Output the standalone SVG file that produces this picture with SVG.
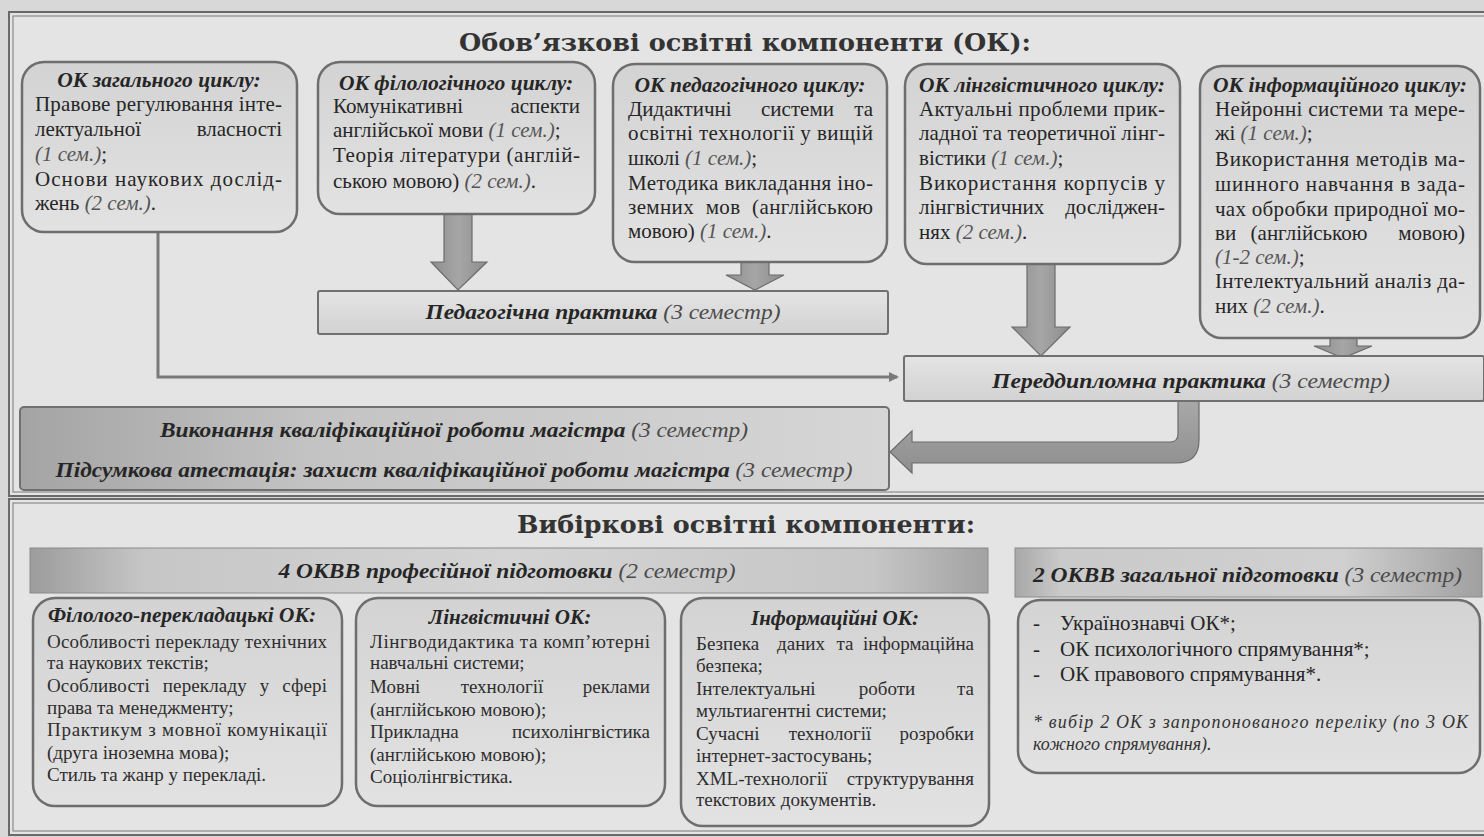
<svg xmlns="http://www.w3.org/2000/svg" width="1484" height="837" viewBox="0 0 1484 837">
<defs>
<linearGradient id="gBox" x1="0" y1="0" x2="0" y2="1"><stop offset="0" stop-color="#d3d3d3"/><stop offset="1" stop-color="#e2e2e2"/></linearGradient>
<linearGradient id="gPr" x1="0" y1="0" x2="0" y2="1"><stop offset="0" stop-color="#e4e4e4"/><stop offset="1" stop-color="#d2d2d2"/></linearGradient>
<linearGradient id="gDark" x1="0" y1="0" x2="1" y2="0"><stop offset="0" stop-color="#a4a4a4"/><stop offset="0.35" stop-color="#c4c4c4"/><stop offset="1" stop-color="#d6d6d6"/></linearGradient>
<linearGradient id="gBar" x1="0" y1="0" x2="1" y2="0"><stop offset="0" stop-color="#9c9c9c"/><stop offset="0.12" stop-color="#c6c6c6"/><stop offset="0.5" stop-color="#d4d4d4"/><stop offset="0.88" stop-color="#c6c6c6"/><stop offset="1" stop-color="#a2a2a2"/></linearGradient>
<linearGradient id="gBar2" x1="0" y1="0" x2="1" y2="0"><stop offset="0" stop-color="#a8a8a8"/><stop offset="0.1" stop-color="#cacaca"/><stop offset="0.7" stop-color="#d0d0d0"/><stop offset="1" stop-color="#a0a0a0"/></linearGradient>
<linearGradient id="gArr" x1="0" y1="0" x2="1" y2="0"><stop offset="0" stop-color="#8e8e8e"/><stop offset="0.5" stop-color="#a6a6a6"/><stop offset="1" stop-color="#8c8c8c"/></linearGradient>
<linearGradient id="gArrV" x1="0" y1="0" x2="0" y2="1"><stop offset="0" stop-color="#a8a8a8"/><stop offset="1" stop-color="#8e8e8e"/></linearGradient>
<marker id="ah" markerWidth="10" markerHeight="10" refX="8" refY="5" orient="auto" markerUnits="userSpaceOnUse"><path d="M0,0 L10,5 L0,10 Z" fill="#7a7a7a"/></marker>
<style>
.frame{fill:#e4e4e4;stroke:#6a6a6a;stroke-width:2}
.frame2{fill:none;stroke:#8a8a8a;stroke-width:1.2}
.box{fill:url(#gBox);stroke:#6e6e6e;stroke-width:2.5}
.pr{fill:url(#gPr);stroke:#707070;stroke-width:2}
.arr{fill:url(#gArr);stroke:#6c6c6c;stroke-width:1.2}
.line{fill:none;stroke:#7a7a7a;stroke-width:3}
.ttl{font-family:"DejaVu Serif","Liberation Serif",serif;font-weight:bold;font-size:24px;fill:#333}
.t{font-family:"Liberation Serif",serif;font-size:21px;fill:#262626}
.s{font-family:"Liberation Serif",serif;font-size:19px;fill:#2e2e2e}
.h{font-family:"Liberation Serif",serif;font-size:21.5px;font-weight:bold;font-style:italic;fill:#262626}
.hs{font-family:"Liberation Serif",serif;font-size:21px;font-weight:bold;font-style:italic;fill:#262626}
.i{font-style:italic;fill:#555}
.p{font-family:"Liberation Serif",serif;font-size:21px;fill:#262626}
.bi{font-weight:bold;font-style:italic}
.it{font-style:italic;fill:#4a4a4a}
.fn{font-family:"Liberation Serif",serif;font-size:18px;font-style:italic;fill:#333}
.e{text-anchor:end}
.m{text-anchor:middle}
</style>
</defs>
<rect width="1484" height="837" fill="#d8d8d8"/>
<rect class="frame" x="9" y="12" width="1490" height="484"/>
<rect class="frame2" x="13" y="16" width="1490" height="476"/>
<rect class="frame" x="9" y="499" width="1490" height="336"/>
<rect class="frame2" x="13" y="503" width="1490" height="328"/>

<text class="ttl m" x="745" y="51" textLength="572" lengthAdjust="spacingAndGlyphs">Обов’язкові освітні компоненти (ОК):</text>
<text class="ttl m" x="746" y="533" textLength="458" lengthAdjust="spacingAndGlyphs">Вибіркові освітні компоненти:</text>

<g id="connectors">
<polyline class="line" points="158,232 158,377 897,377" marker-end="url(#ah)"/>
<polygon class="arr" points="444,214 472,214 472,262 487,262 458,290 431,262 444,262"/>
<polygon class="arr" points="741,262 769,262 769,275 784,275 755,290 726,275 741,275"/>
<polygon class="arr" points="1027,264 1055,264 1055,327 1070,327 1041,356 1012,327 1027,327"/>
<polygon class="arr" points="1330,338 1357,338 1357,346 1372,346 1343,358 1314,346 1330,346"/>
<path class="arr" style="fill:url(#gArrV)" d="M1178,401 L1199,401 L1199,440 Q1199,463 1176,463 L912,463 L912,473 L890,452 L912,431 L912,442 L1170,442 Q1178,442 1178,434 Z"/>
</g>

<g id="ok-general">
<rect class="box" x="22" y="62" width="275" height="170" rx="22"/>
<text class="h m" x="159" y="87">ОК загального циклу:</text>
<text class="t" x="35" y="111" textLength="247" lengthAdjust="spacing">Правове регулювання інте-</text>
<text class="t" x="35" y="136">лектуальної</text><text class="t e" x="282" y="136">власності</text>
<text class="t" x="35" y="161"><tspan class="i">(1 сем.)</tspan>;</text>
<text class="t" x="35" y="186" textLength="247" lengthAdjust="spacing">Основи наукових дослід-</text>
<text class="t" x="35" y="210">жень <tspan class="i">(2 сем.)</tspan>.</text>
</g>

<g id="ok-philological">
<rect class="box" x="318" y="62" width="277" height="152" rx="22"/>
<text class="h m" x="456" y="90">ОК філологічного циклу:</text>
<text class="t" x="333" y="113">Комунікативні</text><text class="t e" x="580" y="113">аспекти</text>
<text class="t" x="333" y="137">англійської мови <tspan class="i">(1 сем.)</tspan>;</text>
<text class="t" x="333" y="162" textLength="247" lengthAdjust="spacing">Теорія літератури (англій-</text>
<text class="t" x="333" y="188">ською мовою) <tspan class="i">(2 сем.)</tspan>.</text>
</g>

<g id="ok-pedagogical">
<rect class="box" x="613" y="64" width="274" height="198" rx="22"/>
<text class="h m" x="750" y="92">ОК педагогічного циклу:</text>
<text class="t" x="628" y="116">Дидактичні</text><text class="t" x="761" y="116">системи</text><text class="t e" x="873" y="116">та</text>
<text class="t" x="628" y="140" textLength="245" lengthAdjust="spacing">освітні технології у вищій</text>
<text class="t" x="628" y="165">школі <tspan class="i">(1 сем.)</tspan>;</text>
<text class="t" x="628" y="190" textLength="245" lengthAdjust="spacing">Методика викладання іно-</text>
<text class="t" x="628" y="214" textLength="245" lengthAdjust="spacing" style="word-spacing:6px">земних мов (англійською</text>
<text class="t" x="628" y="238">мовою) <tspan class="i">(1 сем.)</tspan>.</text>
</g>

<g id="ok-linguistic">
<rect class="box" x="905" y="64" width="275" height="200" rx="22"/>
<text class="h" x="919" y="92" textLength="246" lengthAdjust="spacingAndGlyphs">ОК лінгвістичного циклу:</text>
<text class="t" x="919" y="116" textLength="246" lengthAdjust="spacing">Актуальні проблеми прик-</text>
<text class="t" x="919" y="140" textLength="246" lengthAdjust="spacing">ладної та теоретичної лінг-</text>
<text class="t" x="919" y="165">вістики <tspan class="i">(1 сем.)</tspan>;</text>
<text class="t" x="919" y="190" textLength="246" lengthAdjust="spacing">Використання корпусів у</text>
<text class="t" x="919" y="214">лінгвістичних</text><text class="t e" x="1165" y="214">досліджен-</text>
<text class="t" x="919" y="239">нях <tspan class="i">(2 сем.)</tspan>.</text>
</g>

<g id="ok-informational">
<rect class="box" x="1200" y="66" width="280" height="272" rx="22"/>
<text class="h" x="1213" y="92" textLength="254" lengthAdjust="spacingAndGlyphs">ОК інформаційного циклу:</text>
<text class="t" x="1215" y="116" textLength="250" lengthAdjust="spacing">Нейронні системи та мере-</text>
<text class="t" x="1215" y="140">жі <tspan class="i">(1 сем.)</tspan>;</text>
<text class="t" x="1215" y="166" textLength="250" lengthAdjust="spacing">Використання методів ма-</text>
<text class="t" x="1215" y="191" textLength="250" lengthAdjust="spacing">шинного навчання в зада-</text>
<text class="t" x="1215" y="216" textLength="250" lengthAdjust="spacing">чах обробки природної мо-</text>
<text class="t" x="1215" y="240">ви</text><text class="t m" x="1309" y="240">(англійською</text><text class="t e" x="1465" y="240">мовою)</text>
<text class="t" x="1215" y="264"><tspan class="i">(1-2 сем.)</tspan>;</text>
<text class="t" x="1215" y="288" textLength="250" lengthAdjust="spacing">Інтелектуальний аналіз да-</text>
<text class="t" x="1215" y="313">них <tspan class="i">(2 сем.)</tspan>.</text>
</g>

<g id="ped-practice">
<rect class="pr" x="318" y="291" width="570" height="43" rx="2"/>
<text class="p m" x="603" y="319" textLength="355" lengthAdjust="spacingAndGlyphs"><tspan class="bi">Педагогічна практика</tspan><tspan class="it"> (3 семестр)</tspan></text>
</g>

<g id="prediploma-practice">
<rect class="pr" x="904" y="356" width="580" height="45" rx="2"/>
<text class="p m" x="1191" y="388" textLength="398" lengthAdjust="spacingAndGlyphs"><tspan class="bi">Переддипломна практика</tspan><tspan class="it"> (3 семестр)</tspan></text>
</g>

<g id="qualification">
<rect x="20" y="407" width="869" height="83" rx="4" fill="url(#gDark)" stroke="#707070" stroke-width="2"/>
<text class="p m" x="454" y="437" textLength="588" lengthAdjust="spacingAndGlyphs"><tspan class="bi">Виконання кваліфікаційної роботи магістра</tspan><tspan class="it"> (3 семестр)</tspan></text>
<text class="p m" x="454" y="477" textLength="797" lengthAdjust="spacingAndGlyphs"><tspan class="bi">Підсумкова атестація: захист кваліфікаційної роботи магістра</tspan><tspan class="it"> (3 семестр)</tspan></text>
</g>

<g id="okvv-prof">
<rect x="30" y="548" width="958" height="45" fill="url(#gBar)" stroke="#8a8a8a" stroke-width="1"/>
<text class="p m" x="507" y="578" textLength="457" lengthAdjust="spacingAndGlyphs"><tspan class="bi">4 ОКВВ професійної підготовки</tspan><tspan class="it"> (2 семестр)</tspan></text>
</g>

<g id="okvv-general">
<rect x="1015" y="548" width="467" height="49" fill="url(#gBar2)" stroke="#8a8a8a" stroke-width="1"/>
<text class="p" x="1033" y="582" textLength="429" lengthAdjust="spacingAndGlyphs"><tspan class="bi">2 ОКВВ загальної підготовки</tspan><tspan class="it"> (3 семестр)</tspan></text>
</g>

<g id="philo-translation">
<rect class="box" x="33" y="598" width="309" height="208" rx="22"/>
<text class="hs" x="48" y="622" textLength="268" lengthAdjust="spacingAndGlyphs">Філолого-перекладацькі ОК:</text>
<text class="s" x="47" y="648" textLength="280" lengthAdjust="spacing">Особливості перекладу технічних</text>
<text class="s" x="47" y="669">та наукових текстів;</text>
<text class="s" x="47" y="692" textLength="280" lengthAdjust="spacing" style="word-spacing:8px">Особливості перекладу у сфері</text>
<text class="s" x="47" y="714">права та менеджменту;</text>
<text class="s" x="47" y="736" textLength="280" lengthAdjust="spacing">Практикум з мовної комунікації</text>
<text class="s" x="47" y="759">(друга іноземна мова);</text>
<text class="s" x="47" y="781">Стиль та жанр у перекладі.</text>
</g>

<g id="linguistic-ok">
<rect class="box" x="356" y="598" width="309" height="208" rx="22"/>
<text class="hs m" x="510" y="624">Лінгвістичні ОК:</text>
<text class="s" x="370" y="648" textLength="280" lengthAdjust="spacing">Лінгводидактика та комп’ютерні</text>
<text class="s" x="370" y="669">навчальні системи;</text>
<text class="s" x="370" y="693">Мовні</text><text class="s m" x="502" y="693">технології</text><text class="s e" x="650" y="693">реклами</text>
<text class="s" x="370" y="716">(англійською мовою);</text>
<text class="s" x="370" y="738">Прикладна</text><text class="s e" x="650" y="738">психолінгвістика</text>
<text class="s" x="370" y="761">(англійською мовою);</text>
<text class="s" x="370" y="783">Соціолінгвістика.</text>
</g>

<g id="information-ok">
<rect class="box" x="681" y="598" width="308" height="228" rx="22"/>
<text class="hs m" x="835" y="625">Інформаційні ОК:</text>
<text class="s" x="696" y="650">Безпека</text><text class="s m" x="801" y="650">даних</text><text class="s m" x="845" y="650">та</text><text class="s e" x="974" y="650">інформаційна</text>
<text class="s" x="696" y="672">безпека;</text>
<text class="s" x="696" y="695">Інтелектуальні</text><text class="s m" x="887" y="695">роботи</text><text class="s e" x="974" y="695">та</text>
<text class="s" x="696" y="717">мультиагентні системи;</text>
<text class="s" x="696" y="740">Сучасні</text><text class="s m" x="830" y="740">технології</text><text class="s e" x="974" y="740">розробки</text>
<text class="s" x="696" y="762">інтернет-застосувань;</text>
<text class="s" x="696" y="785">XML-технології</text><text class="s e" x="974" y="785">структурування</text>
<text class="s" x="696" y="806">текстових документів.</text>
</g>

<g id="general-ok">
<rect class="box" x="1018" y="600" width="462" height="173" rx="22"/>
<text class="t" x="1033" y="630">-</text><text class="t" x="1060" y="630">Українознавчі ОК*;</text>
<text class="t" x="1033" y="656">-</text><text class="t" x="1060" y="656">ОК психологічного спрямування*;</text>
<text class="t" x="1033" y="681">-</text><text class="t" x="1060" y="681">ОК правового спрямування*.</text>
<text class="fn" x="1033" y="728" textLength="435" lengthAdjust="spacing">* вибір 2 ОК з запропонованого переліку (по 3 ОК</text>
<text class="fn" x="1033" y="750">кожного спрямування).</text>
</g>
</svg>
